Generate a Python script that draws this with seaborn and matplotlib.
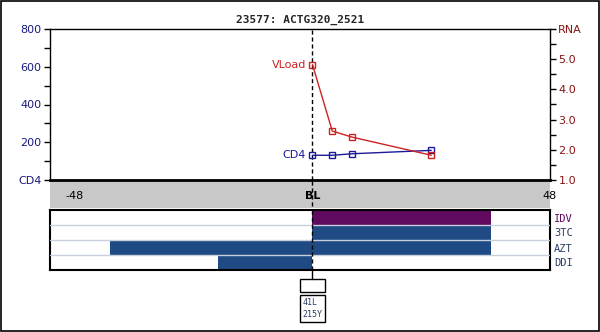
import matplotlib
matplotlib.use("Agg")
import matplotlib.pyplot as plt
from matplotlib.patches import Rectangle
import numpy as np
import pandas as pd
import seaborn as sns

sns.set_style("white")
plt.rcParams["font.family"] = ["DejaVu Sans"]

# ---- data ----
title = "23577: ACTG320_2521"
cd4_weeks = [0, 4, 8, 24]
cd4_values = [131, 131, 139, 157]
rna_weeks = [0, 4, 8, 24]
rna_values = [4.82, 2.62, 2.42, 1.82]

drugs = ["IDV", "3TC", "AZT", "DDI"]
drug_start = [0, 0, -41, -19]
drug_stop = [36, 36, 36, 0]
drug_colors = ["#5f0a5f", "#1f4a84", "#1f4a84", "#1f4a84"]
drug_label_colors = ["#5f0a5f", "#2b3f66", "#2b3f66", "#2b3f66"]

mutations = ["41L", "215Y"]

x_ticks = [-48, -36, -24, -12, 0, 12, 24, 36, 48]
x_labels = ["-48", "", "", "", "BL", "", "", "", "48"]
cd4_ticks = [0, 200, 400, 600, 800]
cd4_labels = ["CD4", "200", "400", "600", "800"]
rna_ticks = [1, 2, 3, 4, 5, 6]
rna_labels = ["1.0", "2.0", "3.0", "4.0", "5.0", "RNA"]

XMIN, XMAX = -53.05, 48

W, H = 600, 332
fig = plt.figure(figsize=(W / 100, H / 100), dpi=100)


def box(x0, y0, x1, y1):
    """Figure-fraction rectangle from pixel edges (y measured from top)."""
    return [x0 / W, 1 - y1 / H, (x1 - x0) / W, (y1 - y0) / H]


CD4_COL = "#1a1a9a"
RNA_COL = "#cc2222"
LEFT_TXT = "#1a1a80"
RIGHT_TXT = "#8b1010"

# gray band holding the week labels
fig.patches.append(Rectangle((50 / W, 1 - 208 / H), 500 / W, 28 / H,
                             transform=fig.transFigure, facecolor="#c8c8c8",
                             edgecolor="none", zorder=-1))

# ---- main lab panel ----
ax = fig.add_axes(box(50, 29, 550, 180))
ax.set_facecolor("white")
cd4_df = pd.DataFrame({"week": cd4_weeks, "cd4": cd4_values})
sns.lineplot(data=cd4_df, x="week", y="cd4", ax=ax, color=CD4_COL, lw=1,
             marker="s", markersize=4.5, markerfacecolor="none",
             markeredgecolor=CD4_COL, markeredgewidth=1)
ax.set_xlim(XMIN, XMAX)
ax.set_ylim(0, 800)
ax.set_xlabel("")
ax.set_ylabel("")
ax.set_xticks(x_ticks)
ax.set_xticklabels(x_labels)
for lab in ax.get_xticklabels():
    if lab.get_text() == "BL":
        lab.set_fontweight("bold")
ax.tick_params(axis="x", direction="out", length=3, width=1, pad=5,
               labelsize=8, colors="black")
ax.set_yticks(cd4_ticks)
ax.set_yticklabels(cd4_labels)
ax.set_yticks(np.arange(100, 800, 200), minor=True)
ax.tick_params(axis="y", which="both", direction="out", length=4, width=1,
               labelsize=8, labelcolor=LEFT_TXT, color="black", pad=2)
for side in ["top", "left", "right"]:
    ax.spines[side].set_linewidth(1)
    ax.spines[side].set_color("black")
ax.spines["bottom"].set_linewidth(2)
ax.spines["bottom"].set_color("black")
ax.axvline(0, color="black", lw=1, ls=(0, (3, 2)), zorder=1)
ax.text(-1.3, cd4_values[0], "CD4", color=CD4_COL, fontsize=8,
        ha="right", va="center")

ax2 = ax.twinx()
rna_df = pd.DataFrame({"week": rna_weeks, "rna": rna_values})
sns.lineplot(data=rna_df, x="week", y="rna", ax=ax2, color=RNA_COL, lw=1,
             marker="s", markersize=4.5, markerfacecolor="none",
             markeredgecolor=RNA_COL, markeredgewidth=1)
ax2.set_ylim(1, 6)
ax2.set_ylabel("")
ax2.set_yticks(rna_ticks)
ax2.set_yticklabels(rna_labels)
ax2.set_yticks(np.arange(1.5, 6, 1), minor=True)
ax2.tick_params(axis="y", which="both", direction="out", length=4, width=1,
                labelsize=8, labelcolor=RIGHT_TXT, color="black", pad=2)
for side in ["top", "left", "right", "bottom"]:
    ax2.spines[side].set_visible(False)
ax2.text(-1.3, rna_values[0], "VLoad", color=RNA_COL, fontsize=8,
         ha="right", va="center")

fig.text(0.5, 1 - 20 / H, title, ha="center", va="center", fontsize=8,
         fontweight="bold", family="DejaVu Sans Mono")

# ---- treatment panel ----
axd = fig.add_axes(box(50, 210, 550, 270))
y_pos = np.arange(len(drugs))
axd.barh(y_pos, np.array(drug_stop) - np.array(drug_start), left=drug_start,
         height=1.0, color=drug_colors, edgecolor="none", zorder=2)
for yb in y_pos[:-1] + 0.5:
    axd.axhline(yb, color="#c8cfdc", lw=1, zorder=3)
axd.axvline(0, color="black", lw=1, ls=(0, (3, 2)), zorder=4)
axd.set_xlim(XMIN, XMAX)
axd.set_ylim(len(drugs) - 0.5, -0.5)
axd.set_xticks([])
axd.yaxis.tick_right()
axd.set_yticks(y_pos)
axd.set_yticklabels(drugs, family="DejaVu Sans Mono")
axd.tick_params(axis="y", length=0, labelsize=7.5, pad=3)
for lab, c in zip(axd.get_yticklabels(), drug_label_colors):
    lab.set_color(c)
for s in axd.spines.values():
    s.set_linewidth(1.5)
    s.set_color("black")

# ---- connector and mutation boxes (pixel rows, week columns) ----
axo = fig.add_axes(box(50, 0, 550, H), zorder=5)
axo.set_xlim(XMIN, XMAX)
axo.set_ylim(H, 0)
axo.axis("off")
axo.patch.set_alpha(0)
axo.plot([0, 0], [181, 210], color="black", lw=1, ls=(0, (3, 2)))
axo.plot([0, 0], [270, 279], color="black", lw=1)
half = 2.45
axo.add_patch(Rectangle((-half, 279), 2 * half, 13, fill=False,
                        edgecolor="black", lw=1))
axo.add_patch(Rectangle((-half, 295), 2 * half, 27, fill=False,
                        edgecolor="black", lw=1))
axo.text(-half + 0.4, 308.5, "\n".join(mutations), ha="left", va="center",
         fontsize=6, color="#2b3f66", family="DejaVu Sans Mono",
         linespacing=1.45)

# outer frame
fig.patches.append(Rectangle((0.0015, 0.003), 0.997, 0.994,
                             transform=fig.transFigure, fill=False,
                             edgecolor="black", lw=1.2, zorder=10))

fig.savefig("out.png", dpi=100, facecolor="white")
